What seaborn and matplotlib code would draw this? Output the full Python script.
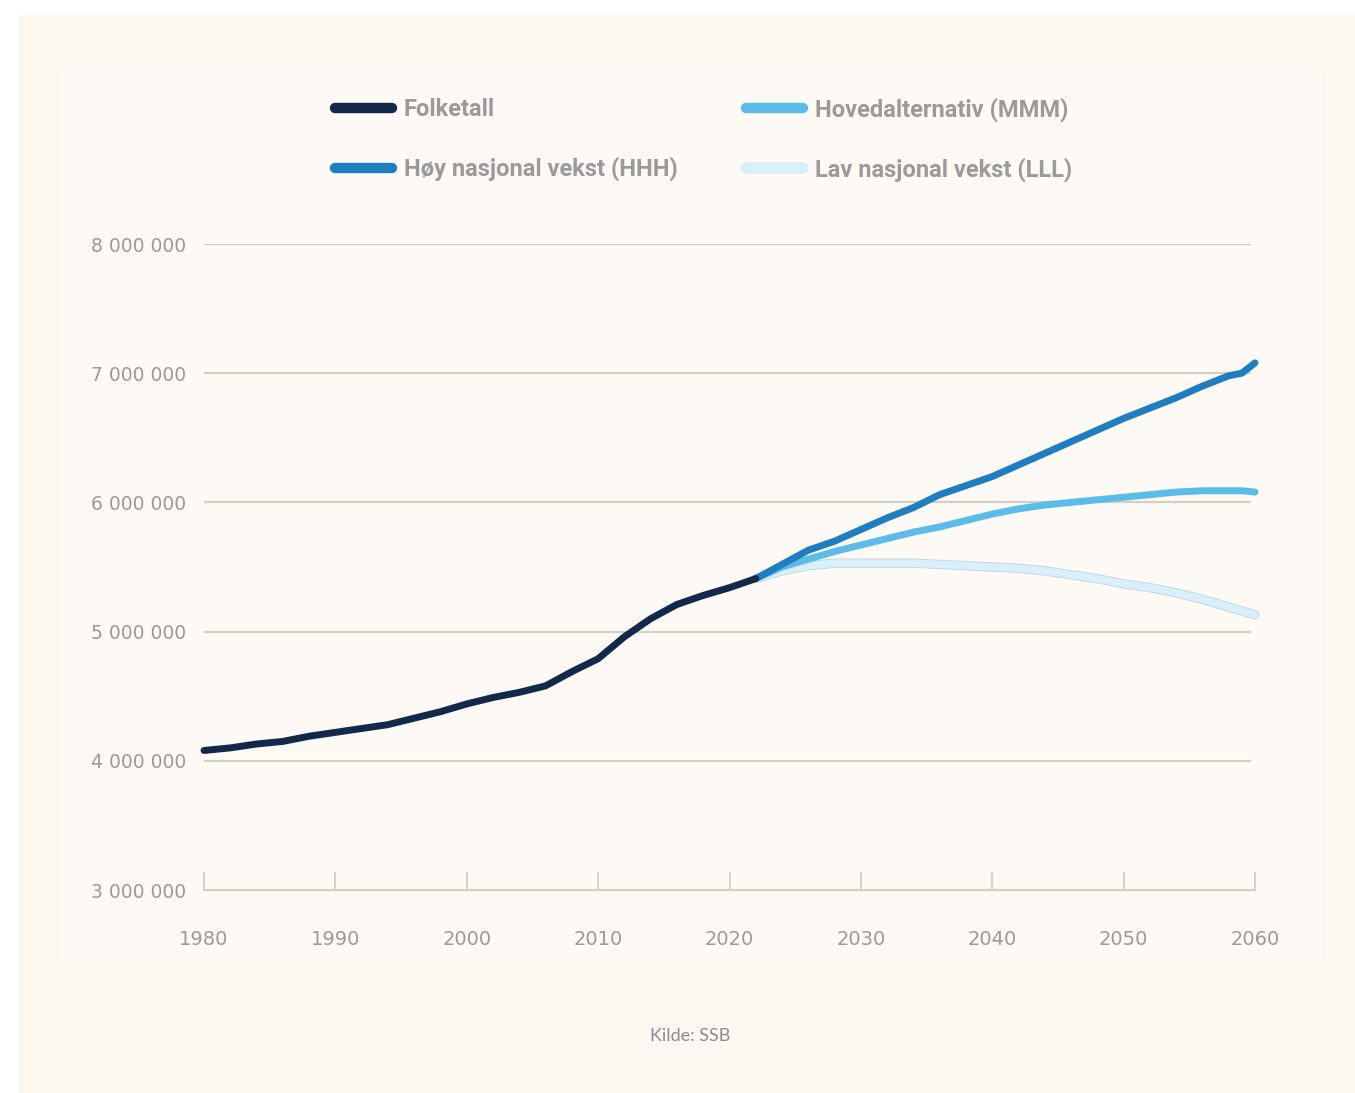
import matplotlib
matplotlib.use("Agg")
import matplotlib.pyplot as plt
import matplotlib.patheffects as pe
from matplotlib.lines import Line2D
from matplotlib.patches import Rectangle
import pandas as pd
import seaborn as sns

# Registered population (Folketall), millions
hist_years = [1980, 1982, 1984, 1986, 1988, 1990, 1992, 1994, 1996, 1998, 2000,
              2002, 2004, 2006, 2008, 2010, 2012, 2014, 2016, 2018, 2020, 2022]
hist_pop = [4.08, 4.10, 4.13, 4.15, 4.19, 4.22, 4.25, 4.28, 4.33, 4.38, 4.44,
            4.49, 4.53, 4.58, 4.69, 4.79, 4.96, 5.10, 5.21, 5.28, 5.34, 5.41]

# Projection alternatives (millions)
proj_years = [2022, 2024, 2026, 2028, 2030, 2032, 2034, 2036, 2038, 2040, 2042,
              2044, 2046, 2048, 2050, 2052, 2054, 2056, 2058, 2059, 2060]
hhh = [5.41, 5.52, 5.63, 5.70, 5.79, 5.88, 5.96, 6.06, 6.13, 6.20, 6.29,
       6.38, 6.47, 6.56, 6.65, 6.73, 6.81, 6.90, 6.98, 7.00, 7.08]
mmm = [5.41, 5.50, 5.56, 5.62, 5.67, 5.72, 5.77, 5.81, 5.86, 5.91, 5.95,
       5.98, 6.00, 6.02, 6.04, 6.06, 6.08, 6.09, 6.09, 6.09, 6.08]
lll = [5.41, 5.47, 5.51, 5.53, 5.53, 5.53, 5.53, 5.52, 5.51, 5.50, 5.49,
       5.47, 5.44, 5.41, 5.37, 5.34, 5.30, 5.25, 5.19, 5.16, 5.13]

series_labels = ["Folketall", "Høy nasjonal vekst (HHH)",
                 "Hovedalternativ (MMM)", "Lav nasjonal vekst (LLL)"]
x_ticks = [1980, 1990, 2000, 2010, 2020, 2030, 2040, 2050, 2060]
y_ticks = [3_000_000, 4_000_000, 5_000_000, 6_000_000, 7_000_000, 8_000_000]
y_ticklabels = ["3 000 000", "4 000 000", "5 000 000", "6 000 000",
                "7 000 000", "8 000 000"]

C_HIST = "#13294b"
C_HHH = "#1f7ec2"
C_MMM = "#5bbce9"
C_LLL = "#d8f0fb"
BG = "#fcf7f0"
GRID = "#d3cec6"
TXT = "#9a9a9a"

sns.set_theme(style="white")
plt.rcParams["font.family"] = ["DejaVu Sans"]

fig = plt.figure(figsize=(13.55, 10.93), dpi=100, facecolor="white")
fig.patches.append(Rectangle((18 / 1355, 0), 1, 1 - 15 / 1093,
                             transform=fig.transFigure, facecolor=BG,
                             edgecolor="none", zorder=-10))
fig.patches.append(Rectangle((60 / 1355, 1 - 965 / 1093), 1263 / 1355, 897 / 1093,
                             transform=fig.transFigure, facecolor="#fdf9f4",
                             edgecolor="none", zorder=-9))

ax = fig.add_axes([204 / 1355, 1 - 890 / 1093, 1051 / 1355, 646 / 1093])
ax.set_facecolor("none")

hist_df = pd.DataFrame({"year": hist_years, "pop": [v * 1e6 for v in hist_pop]})
proj_df = pd.DataFrame({
    "year": proj_years * 3,
    "pop": [v * 1e6 for v in lll + mmm + hhh],
    "alt": ["LLL"] * len(proj_years) + ["MMM"] * len(proj_years) + ["HHH"] * len(proj_years),
})

for alt, col, lw in [("LLL", C_LLL, 5.5), ("MMM", C_MMM, 5.0), ("HHH", C_HHH, 5.0)]:
    sub = proj_df[proj_df["alt"] == alt]
    sns.lineplot(data=sub, x="year", y="pop", color=col, linewidth=lw, ax=ax,
                 legend=False, zorder=3)
    line = ax.lines[-1]
    line.set_solid_capstyle("round")
    line.set_solid_joinstyle("round")
    line.set_clip_on(False)
    if alt == "LLL":
        line.set_path_effects([pe.Stroke(linewidth=lw + 1.2, foreground="#c4d3da"),
                               pe.Normal()])

sns.lineplot(data=hist_df, x="year", y="pop", color=C_HIST, linewidth=5.0, ax=ax,
             legend=False, zorder=4)
ax.lines[-1].set_solid_capstyle("round")
ax.lines[-1].set_solid_joinstyle("round")
ax.lines[-1].set_clip_on(False)

ax.set_xlim(1980, 2060)
ax.set_ylim(3_000_000, 8_000_000)
ax.set_xticks(x_ticks)
ax.set_xticklabels([str(y) for y in x_ticks])
ax.set_yticks(y_ticks)
ax.set_yticklabels(y_ticklabels)
ax.set_xlabel("")
ax.set_ylabel("")

for y in y_ticks[1:]:
    ax.axhline(y, xmin=-0.002, xmax=0.995, color=GRID, linewidth=1.6, zorder=1)

for side in ["top", "right", "left"]:
    ax.spines[side].set_visible(False)
ax.spines["bottom"].set_color(GRID)
ax.spines["bottom"].set_linewidth(1.6)
ax.tick_params(axis="x", direction="in", length=13, width=1.3, color=GRID,
               pad=29, labelsize=14, labelcolor=TXT, bottom=True)
ax.tick_params(axis="y", length=0, pad=13, labelsize=13.5, labelcolor=TXT)

handle_colors = [C_HIST, C_HHH, C_MMM, C_LLL]
handles = [Line2D([], [], color=c, linewidth=7.5, solid_capstyle="round")
           for c in handle_colors]
handles[3].set_path_effects([pe.Stroke(linewidth=8.5, foreground="#e3edf1"), pe.Normal()])
leg = fig.legend(handles, series_labels, ncol=2, loc="upper left",
                 bbox_to_anchor=(314 / 1355, 1 - 76 / 1093), frameon=False,
                 handlelength=2.42, handletextpad=0.49, columnspacing=2.9,
                 labelspacing=1.5,
                 prop={"family": "Roboto", "size": 17, "weight": "bold"})
for t in leg.get_texts():
    t.set_color(TXT)

fig.text(690 / 1355, 1 - 1036 / 1093, "Kilde: SSB", ha="center", va="center",
         fontsize=13, color="#8c8c8c", family=["Lato", "DejaVu Sans"])

fig.savefig("out.png", dpi=100, facecolor=fig.get_facecolor())
